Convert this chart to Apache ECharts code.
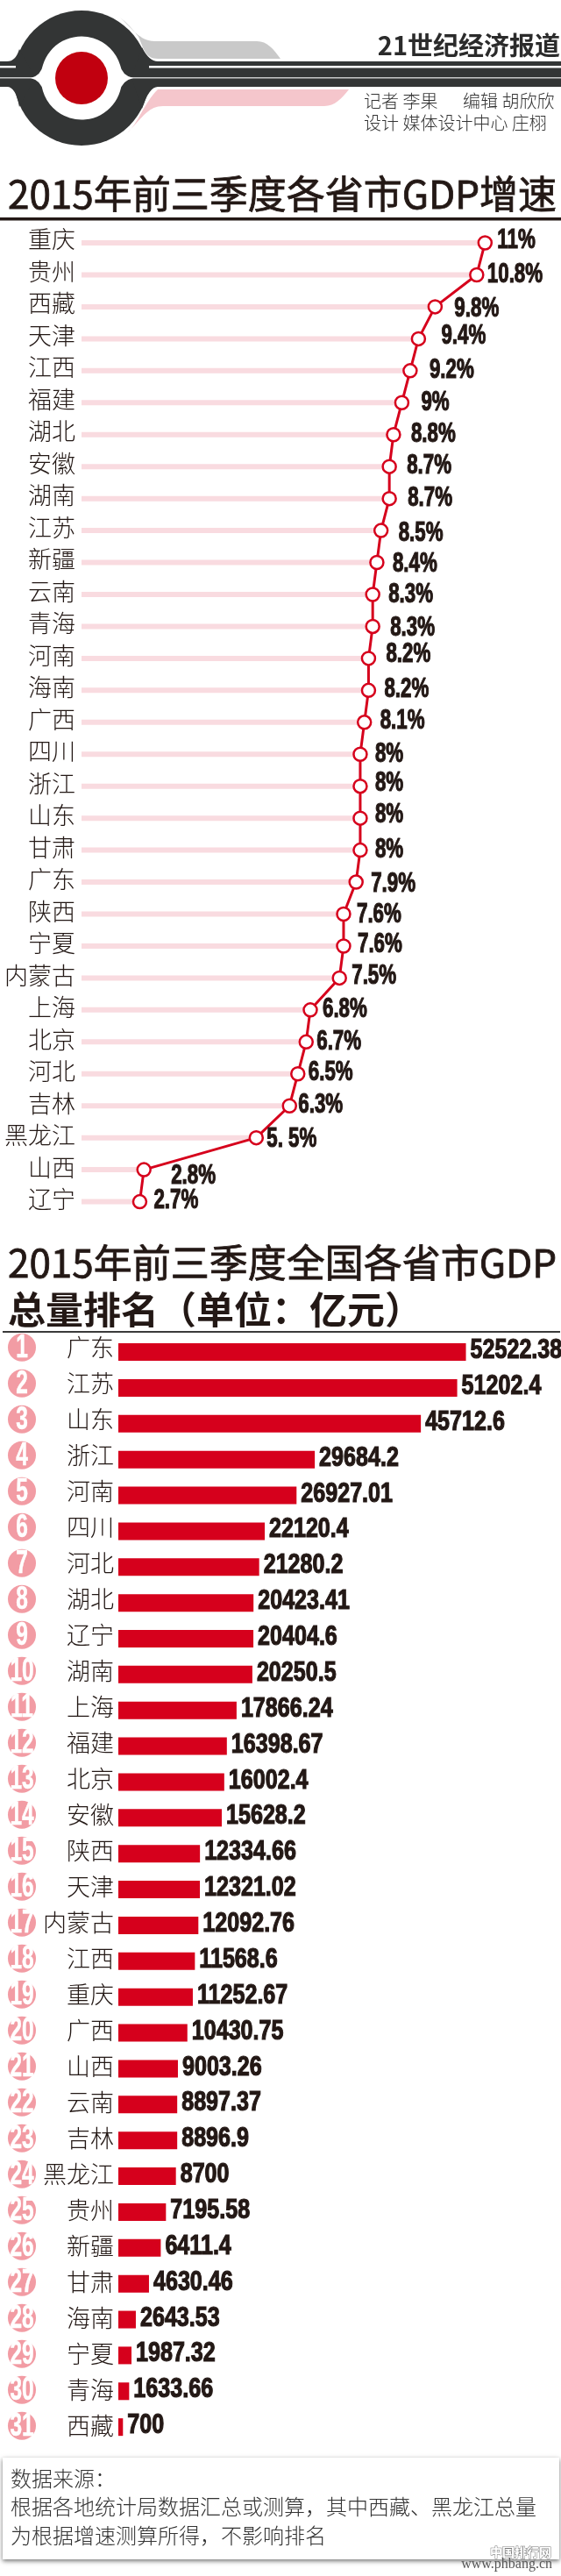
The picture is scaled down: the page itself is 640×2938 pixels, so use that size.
<!DOCTYPE html>
<html lang="zh-CN">
<head>
<meta charset="utf-8">
<style>
  html, body { margin: 0; padding: 0; background: #fff; }
  #container { width: 640px; height: 2938px; }
</style>
</head>
<body>
<div id="container"></div>
<script src="https://cdn.jsdelivr.net/npm/echarts@6/dist/echarts.min.js"></script>
<script>
  // 增速
  const speedNames = ['重庆', '贵州', '西藏', '天津', '江西', '福建', '湖北', '安徽', '湖南', '江苏', '新疆', '云南', '青海', '河南', '海南', '广西', '四川', '浙江', '山东', '甘肃', '广东', '陕西', '宁夏', '内蒙古', '上海', '北京', '河北', '吉林', '黑龙江', '山西', '辽宁'];
  const speedValues = [11, 10.8, 9.8, 9.4, 9.2, 9, 8.8, 8.7, 8.7, 8.5, 8.4, 8.3, 8.3, 8.2, 8.2, 8.1, 8, 8, 8, 8, 7.9, 7.6, 7.6, 7.5, 6.8, 6.7, 6.5, 6.3, 5.5, 2.8, 2.7];

  // 总量排名
  const rankLabels = ['1', '2', '3', '4', '5', '6', '7', '8', '9', '10', '11', '12', '13', '14', '15', '16', '17', '18', '19', '20', '21', '22', '23', '24', '25', '26', '27', '28', '29', '30', '31'];
  const gdpNames = ['广东', '江苏', '山东', '浙江', '河南', '四川', '河北', '湖北', '辽宁', '湖南', '上海', '福建', '北京', '安徽', '陕西', '天津', '内蒙古', '江西', '重庆', '广西', '山西', '云南', '吉林', '黑龙江', '贵州', '新疆', '甘肃', '海南', '宁夏', '青海', '西藏'];
  const gdpValues = [52522.38, 51202.4, 45712.6, 29684.2, 26927.01, 22120.4, 21280.2, 20423.41, 20404.6, 20250.5, 17866.24, 16398.67, 16002.4, 15628.2, 12334.66, 12321.02, 12092.76, 11568.6, 11252.67, 10430.75, 9003.26, 8897.37, 8896.9, 8700, 7195.58, 6411.4, 4630.46, 2643.53, 1987.32, 1633.66, 700];

  // 原图标注是手工摆的，这里记下每行的偏移 [x, y]
  const speedNudge = [[14,-3],[12,0],[22,3],[26,-3],[22,0],[22,0],[20,0],[20,-1],[21,0],[20,3],[18,2],[18,0],[20,2],[20,-4],[18,-1],[18,-1],[17,0],[17,-3],[17,-4],[17,0],[17,2],[15,1],[16,-2],[14,-2],[14,0],[12,0],[12,-1],[10,-1],[12,2],[31,7],[16,-1]];

  const INK = '#231815';
  const RED = '#d6001c';
  const CJK = '"Noto Sans CJK SC", sans-serif';
  const HEAVY = '"Liberation Sans", sans-serif';

  const myChart = echarts.init(document.getElementById('container'), null, { renderer: 'canvas' });

  function txt(text, x, y, font, fill, extra) {
    return { type: 'text', silent: true, style: Object.assign({ text: text, x: x, y: y, font: font, fill: fill, textVerticalAlign: 'middle' }, extra || {}) };
  }
  function box(x, y, w, h, fill, extra) {
    return { type: 'rect', silent: true, shape: { x: x, y: y, width: w, height: h }, style: Object.assign({ fill: fill }, extra || {}) };
  }
  function path(d, fill) {
    return { type: 'path', silent: true, shape: { pathData: d }, style: { fill: fill } };
  }

  // 报头图案，graphic 组件不支持 path，放到 custom 里画
  const DARK = '#333535';
  function renderLogo() {
    return {
      type: 'group',
      children: [
        path('M137 20 C150 32 160 47 176 47 L293 47 C305 47 312 56 320 67 L180 67 C166 67 164 56 158 42 C152 34 145 26 137 20 Z', '#c9c9c9'),
        path('M398 102 C390 112 382 121 370 121 L186 121 C170 121 164 132 145 152 C158 140 164 118 180 102 Z', '#f5c6cc'),
        box(0, 70, 640, 29, DARK),
        { type: 'circle', silent: true, shape: { cx: 93, cy: 89, r: 77 }, style: { fill: DARK } },
        path('M0 70 L8 70 Q18 70 22 56 L40 88 L22 122 Q18 99 8 99 L0 99 Z', DARK),
        path('M180 70 Q170 70 162 54 L150 88 L162 124 Q170 99 180 99 Z', DARK),
        box(0, 75, 18, 2.4, '#fff'),
        box(170, 75, 470, 2.4, '#fff'),
        box(0, 88, 640, 1.6, '#c8c8c8'),
        path('M35 89 Q47 86 49 74 A46 46 0 0 1 137 74 Q139 86 152 89 Q139 92 137 104 A46 46 0 0 1 49 104 Q47 92 35 89 Z', '#fff'),
        { type: 'circle', silent: true, shape: { cx: 93, cy: 89, r: 30 }, style: { fill: '#c1000f' } }
      ]
    };
  }

  // 原图数字是窄黑体，没有这种字体，只好横向压缩
  function narrowText(text, x, y, size, scaleX, extra) {
    return {
      type: 'text', silent: true, x: x, y: y, scaleX: scaleX,
      style: Object.assign({
        text: text, font: 'bold ' + size + 'px ' + HEAVY, fill: INK,
        stroke: INK, lineWidth: 1.2, textVerticalAlign: 'middle'
      }, extra || {})
    };
  }
  function renderSpeedLabel(params, api) {
    const v = api.value(0);
    const pt = api.coord([v, api.value(1)]);
    const nudge = speedNudge[params.dataIndex];
    // 原图“5. 5%”中间带空格
    const text = (v === 5.5 ? '5. 5' : v) + '%';
    return narrowText(text, pt[0] + nudge[0], pt[1] + nudge[1], 31, 0.72);
  }
  function renderGdpLabel(params, api) {
    const v = api.value(0);
    const pt = api.coord([v, api.value(1)]);
    return narrowText(String(v), pt[0] + 5, pt[1] - 1.5, 31, 0.81);
  }
  function renderRank(params, api) {
    const pt = api.coord([0, api.value(0)]);
    return {
      type: 'group',
      children: [
        { type: 'circle', silent: true, shape: { cx: pt[0], cy: pt[1], r: 16 }, style: { fill: '#f29ca4' } },
        narrowText(rankLabels[params.dataIndex], pt[0], pt[1] + 1, 36, 0.68, { fill: '#fff', stroke: '#fff', lineWidth: 0.5, textAlign: 'center' })
      ]
    };
  }

  const graphics = [
    txt('21世纪经济报道', 639, 52, 'bold 29px ' + CJK, '#2b2b2b', { textAlign: 'right' }),
    txt('记者 李果', 415, 115, '300 20px ' + CJK, '#333'),
    txt('编辑 胡欣欣', 528, 115, '300 20px ' + CJK, '#333'),
    txt('设计 媒体设计中心 庄栩', 415, 140, '300 20px ' + CJK, '#333'),
    // 标题下的线
    box(0, 248, 640, 3.5, INK),
    box(3, 1518, 636, 2, '#3a3a3a'),
    // 数据来源
    box(3, 2803, 635, 116, '#fff', { shadowBlur: 5, shadowColor: 'rgba(0,0,0,0.55)', shadowOffsetY: 2 }),
    txt('数据来源：', 12, 2827, '300 24px ' + CJK, '#333'),
    txt('根据各地统计局数据汇总或测算，其中西藏、黑龙江总量', 12, 2859, '300 24px ' + CJK, '#333'),
    txt('为根据增速测算所得，不影响排名', 12, 2892, '300 24px ' + CJK, '#333'),
    txt('中国排行网', 629, 2911, 'bold 14px ' + CJK, '#fff', { textAlign: 'right', stroke: '#777', lineWidth: 1 }),
    txt('www.phbang.cn', 630, 2925, '16px "Liberation Serif", serif', '#555', { textAlign: 'right' })
  ];

  const titleStyle = { fontFamily: CJK, fontSize: 44, fontWeight: 'normal', color: INK, textBorderColor: INK, textBorderWidth: 0.8 };

  const option = {
    animation: false,
    backgroundColor: '#fff',
    title: [
      { text: '2015年前三季度各省市GDP增速', left: 4, top: 194, textStyle: titleStyle },
      { text: '2015年前三季度全国各省市GDP', left: 4, top: 1413, textStyle: titleStyle },
      { text: '总量排名（单位：亿元）', left: 4, top: 1467, textStyle: { fontFamily: CJK, fontSize: 43, fontWeight: 'bold', color: INK } }
    ],
    grid: [
      { left: 93, top: 258.8, width: 522, height: 1130 },      // 增速
      { left: 93, top: 254.8, width: 522, height: 1131.5 },    // 增速的省名
      { left: 135, top: 1521.6, width: 453, height: 1267 },    // 总量
      { left: 135, top: 1516.2, width: 453, height: 1271 },    // 总量的省名
      { left: 25, top: 1516.2, width: 1, height: 1271 }        // 名次
    ],
    xAxis: [
      { gridIndex: 0, type: 'value', min: 1.3, max: 12.3, show: false },
      { gridIndex: 1, type: 'value', show: false },
      { gridIndex: 2, type: 'value', min: 0, max: 60000, show: false },
      { gridIndex: 3, type: 'value', show: false },
      { gridIndex: 4, type: 'value', min: 0, max: 1, show: false }
    ],
    yAxis: [
      { gridIndex: 0, type: 'category', inverse: true, data: speedNames, show: false },
      {
        gridIndex: 1, type: 'category', inverse: true, data: speedNames,
        axisLine: { show: false }, axisTick: { show: false },
        axisLabel: { margin: 7, interval: 0, fontFamily: CJK, fontSize: 27, fontWeight: 300, color: INK }
      },
      { gridIndex: 2, type: 'category', inverse: true, data: gdpNames, show: false },
      {
        gridIndex: 3, type: 'category', inverse: true, data: gdpNames,
        axisLine: { show: false }, axisTick: { show: false },
        axisLabel: { margin: 5, interval: 0, fontFamily: CJK, fontSize: 27, fontWeight: 300, color: INK }
      },
      { gridIndex: 4, type: 'category', inverse: true, data: rankLabels, show: false }
    ],
    series: [
      {
        type: 'custom', coordinateSystem: 'none', data: [0], renderItem: renderLogo, silent: true
      },
      {
        type: 'bar', xAxisIndex: 0, yAxisIndex: 0, data: speedValues, barWidth: 6,
        itemStyle: { color: '#f9dbe0' }, silent: true
      },
      {
        type: 'line', xAxisIndex: 0, yAxisIndex: 0, data: speedValues,
        symbol: 'circle', symbolSize: 15, showSymbol: true, showAllSymbol: true,
        lineStyle: { color: RED, width: 3 },
        itemStyle: { color: '#fff', borderColor: RED, borderWidth: 2.5 }
      },
      {
        type: 'custom', xAxisIndex: 0, yAxisIndex: 0, renderItem: renderSpeedLabel, silent: true,
        data: speedValues.map((v, i) => [v, i]), encode: { x: 0, y: 1 }, z: 5
      },
      {
        type: 'bar', xAxisIndex: 2, yAxisIndex: 2, data: gdpValues, barWidth: 20,
        itemStyle: { color: RED }
      },
      {
        type: 'custom', xAxisIndex: 2, yAxisIndex: 2, renderItem: renderGdpLabel, silent: true,
        data: gdpValues.map((v, i) => [v, i]), encode: { x: 0, y: 1 }, z: 5
      },
      {
        type: 'custom', xAxisIndex: 4, yAxisIndex: 4, renderItem: renderRank, silent: true,
        data: rankLabels.map((r, i) => [i]), encode: { y: 0 }
      }
    ],
    graphic: graphics
  };

  myChart.setOption(option);
  window.addEventListener('resize', myChart.resize);
</script>
</body>
</html>
